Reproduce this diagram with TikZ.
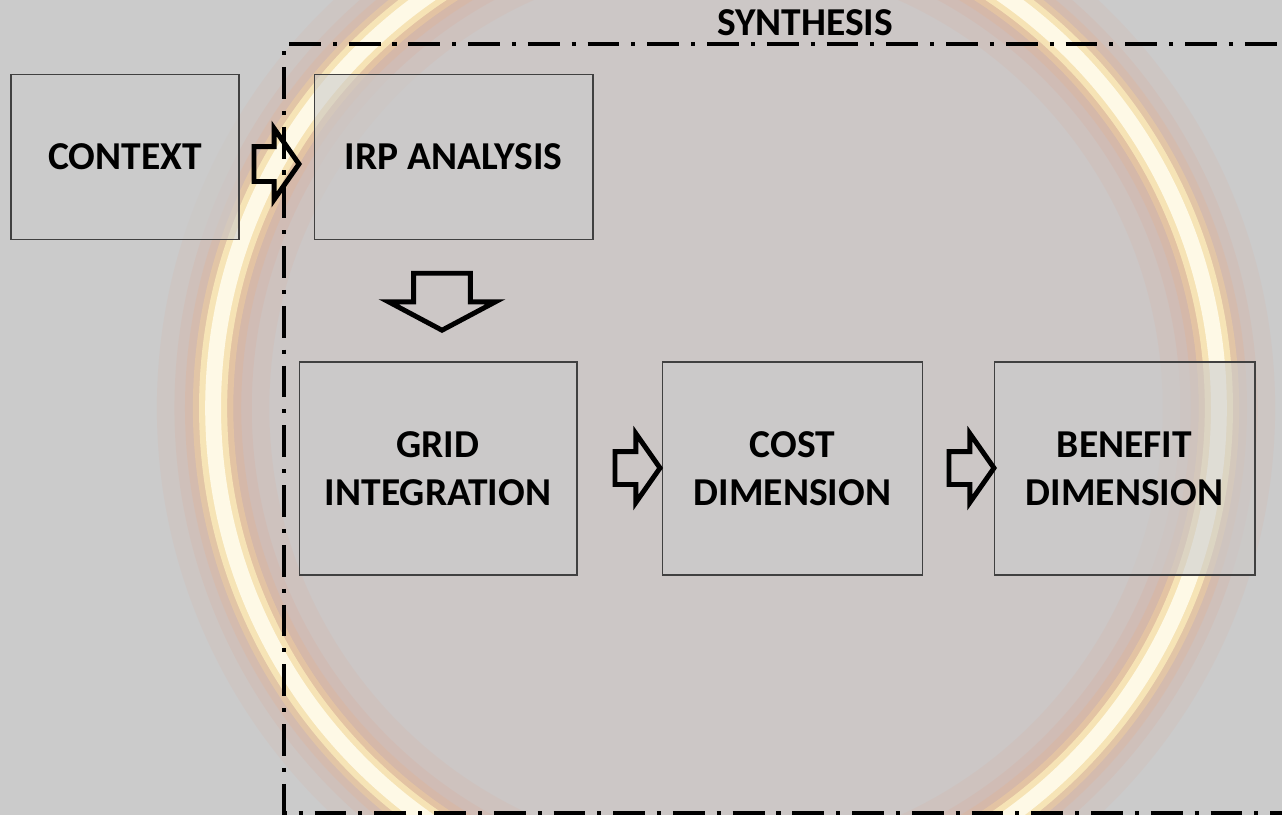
\documentclass[tikz,border=0pt]{standalone}
\usepackage{fontspec}
\setmainfont{Carlito}
\usetikzlibrary{shapes.arrows}

\definecolor{slidegray}{HTML}{CBCBCB}
\definecolor{ringred}{HTML}{E8906C}
\definecolor{ringorange}{HTML}{F0A878}
\definecolor{ringamber}{HTML}{F8D49A}
\definecolor{ringyellow}{HTML}{FFF2BE}
\definecolor{ringcore}{HTML}{FFFCEC}

\begin{document}
\begin{tikzpicture}[
    x=0.02cm, y=-0.02cm,
    stage/.style={draw=black!75, line width=0.6pt, fill=slidegray, fill opacity=0.6, text opacity=1, font=\fontsize{22.5}{27.5}\selectfont\bfseries, align=center, inner sep=0pt, minimum height=3.3cm},
    flow/.style={single arrow, draw=black, line width=2.8pt, inner xsep=0pt, inner ysep=0.28cm, minimum height=0.9cm, single arrow head extend=0.36cm, single arrow tip angle=110, anchor=tip},
    frameline/.style={line width=2.3pt}
]
\useasboundingbox (0,0) rectangle (1282,815);
\clip (0,0) rectangle (1282,815);

% slide background with the glowing ring
\fill[slidegray] (0,0) rectangle (1282,815);
\fill[ringred, opacity=0.05] (716,408) circle [radius=9.9cm];
\foreach \w/\c/\o in {64/ringred/0.08, 44/ringred/0.10, 32/ringorange/0.18, 23/ringamber/0.4, 16/ringyellow/0.7, 9/ringcore/0.9}
    \draw[line width=\w pt, \c, opacity=\o] (716,408) circle [radius=10.06cm];

% synthesis frame
\draw[frameline, dash pattern=on 18.1pt off 6.8pt on 2.3pt off 6.8pt] (289,44) -- (1282,44);
\draw[frameline, dash pattern=on 2.3pt off 6.8pt on 18.1pt off 6.8pt] (284,51) -- (284,813) -- (1282,813);
\node[font=\fontsize{22.5}{27.5}\selectfont\bfseries, anchor=base] (synthlabel) at (805,35) {SYNTHESIS};

% stages
\node[stage, minimum width=4.56cm] (context) at (125,157) {CONTEXT};
\node[stage, minimum width=5.58cm] (irp) at (453.5,157) {IRP ANALYSIS};
\node[stage, minimum width=5.56cm, minimum height=4.26cm] (grid) at (438,468.5) {GRID\\INTEGRATION};
\node[stage, minimum width=5.2cm, minimum height=4.26cm] (cost) at (792.5,468.5) {COST\\DIMENSION};
\node[stage, minimum width=5.22cm, minimum height=4.26cm] (benefit) at (1124.5,468.5) {BENEFIT\\DIMENSION};

% block arrows
\node[flow, inner ysep=0.3cm] (toirp) at (302,164) {};
\node[flow, shape border rotate=270, inner xsep=0.52cm, inner ysep=0pt, minimum height=1.14cm, single arrow head extend=0.5cm, single arrow tip angle=124] (togrid) at (442,333) {};
\node[flow] (tocost) at (663,468) {};
\node[flow] (tobenefit) at (997,468) {};
\end{tikzpicture}
\end{document}
